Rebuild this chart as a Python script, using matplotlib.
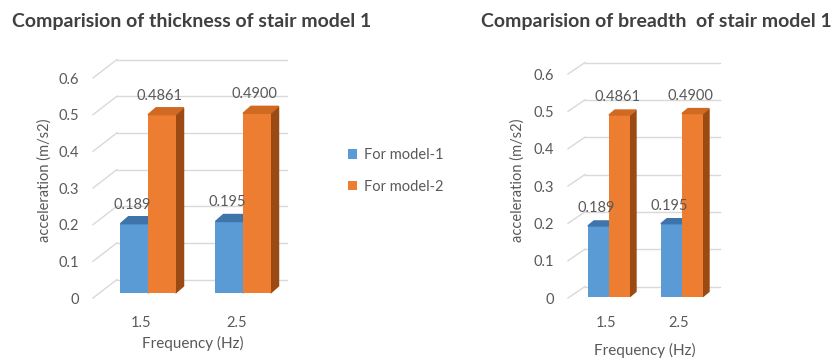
import matplotlib.pyplot as plt
from matplotlib.patches import Polygon

# ── Data ──────────────────────────────────────────────────────────────────────
CATEGORIES = ["1.5", "2.5"]
MODEL_1 = [0.189, 0.195]
MODEL_2 = [0.4861, 0.4900]
LABELS_1 = ["0.189", "0.195"]
LABELS_2 = ["0.4861", "0.4900"]
SERIES = ["For model-1", "For model-2"]
Y_TICKS = [0, 0.1, 0.2, 0.3, 0.4, 0.5, 0.6]
Y_TICK_LABELS = ["0", "0.1", "0.2", "0.3", "0.4", "0.5", "0.6"]
TITLES = ["Comparision of thickness of stair model 1",
          "Comparision of breadth  of stair model 1"]

# ── Styling ───────────────────────────────────────────────────────────────────
W, H = 832, 361
BLUE, BLUE_TOP, BLUE_SIDE = "#5B9BD5", "#3F74AB", "#3A6591"
ORANGE, ORANGE_TOP, ORANGE_SIDE = "#ED7D31", "#D06A22", "#9C4A14"
GRID = "#D9D9D9"
TXT = "#595959"
FS = 10.5
plt.rcParams["font.family"] = ["Lato", "DejaVu Sans"]

fig = plt.figure(figsize=(W / 100, H / 100), dpi=100)
fig.patch.set_facecolor("white")


def px_axes(x0, x1, ytop, ybot):
    return fig.add_axes([x0 / W, 1 - ybot / H, (x1 - x0) / W, (ybot - ytop) / H])


def panel(geom, xlim, bar_w, floor, shift, depth, ylab_xy, xlab_xy, label_off):
    x0, x1, ytop, ybot = geom
    ax = px_axes(x0, x1, ytop, ybot)
    ax.set_xlim(*xlim)
    ax.set_ylim(0, 0.6)
    ux = (xlim[1] - xlim[0]) / (x1 - x0)
    uy = 0.6 / (ybot - ytop)
    for s in ax.spines.values():
        s.set_visible(False)

    # back wall / floor gridlines
    fdx, fdy = floor[0] * ux, floor[1] * uy
    for t in Y_TICKS:
        ax.plot([xlim[0], xlim[0] + fdx], [t, t + fdy], color=GRID, lw=1.0,
                clip_on=False, zorder=1)
        ax.plot([xlim[0] + fdx, xlim[1] + fdx], [t + fdy, t + fdy], color=GRID,
                lw=1.0, clip_on=False, zorder=1)

    xs = list(range(len(CATEGORIES)))
    sx, sy = shift[0] * ux, shift[1] * uy
    ddx, ddy = depth[0] * ux, depth[1] * uy
    b1 = ax.bar([x + sx - bar_w / 2 for x in xs], MODEL_1, width=bar_w,
                bottom=sy, color=BLUE, zorder=3, clip_on=False)
    b2 = ax.bar([x + sx + bar_w / 2 for x in xs], MODEL_2, width=bar_w,
                bottom=sy, color=ORANGE, zorder=5, clip_on=False)

    for bars, top_c, side_c, z in [(b1, BLUE_TOP, BLUE_SIDE, 3),
                                   (b2, ORANGE_TOP, ORANGE_SIDE, 5)]:
        for r in bars:
            bx, by, bw, bh = r.get_x(), r.get_y(), r.get_width(), r.get_height()
            top = [(bx, by + bh), (bx + bw, by + bh),
                   (bx + bw + ddx, by + bh + ddy), (bx + ddx, by + bh + ddy)]
            side = [(bx + bw, by), (bx + bw + ddx, by + ddy),
                    (bx + bw + ddx, by + bh + ddy), (bx + bw, by + bh)]
            ax.add_patch(Polygon(top, closed=True, color=top_c, zorder=z,
                                 clip_on=False))
            ax.add_patch(Polygon(side, closed=True, color=side_c, zorder=z - 0.5,
                                 clip_on=False))

    # data labels
    for bars, labs in [(b1, LABELS_1), (b2, LABELS_2)]:
        for r, lab in zip(bars, labs):
            ax.annotate(lab, (r.get_x() + r.get_width() / 2 - 2 * ux,
                              r.get_y() + r.get_height()),
                        xytext=(0, label_off), textcoords="offset pixels",
                        ha="center", va="center", fontsize=FS, color=TXT,
                        zorder=6)

    ax.set_yticks(Y_TICKS, Y_TICK_LABELS)
    ax.set_xticks(xs, CATEGORIES)
    ax.tick_params(axis="y", length=0, pad=10, labelsize=FS, labelcolor=TXT)
    ax.tick_params(axis="x", length=0, pad=13, labelsize=FS, labelcolor=TXT)

    ax.set_ylabel("acceleration (m/s2)", fontsize=FS, color=TXT)
    ax.yaxis.set_label_coords((ylab_xy[0] - x0) / (x1 - x0),
                              (ybot - ylab_xy[1]) / (ybot - ytop))
    ax.yaxis.label.set_va("center")
    ax.set_xlabel("Frequency (Hz)", fontsize=11, color=TXT)
    ax.xaxis.set_label_coords((xlab_xy[0] - x0) / (x1 - x0),
                              (ybot - xlab_xy[1]) / (ybot - ytop))
    ax.xaxis.label.set_va("center")
    ax.set_facecolor("none")
    return ax, b1, b2


# left panel
axL, hb1, hb2 = panel(geom=(93, 263, 78, 298), xlim=(-0.5105, 1.279), bar_w=0.29,
                      floor=(24, 18.5), shift=(6.5, 5), depth=(8, 7),
                      ylab_xy=(45, 180), xlab_xy=(193, 343), label_off=19)
# right panel
axR, _, _ = panel(geom=(568, 703, 74, 298), xlim=(-0.52, 1.329), bar_w=0.288,
                  floor=(17, 11.5), shift=(3, 1.5), depth=(6, 5),
                  ylab_xy=(518, 180), xlab_xy=(645, 350), label_off=18)

fig.text(12 / W, 1 - 22 / H, TITLES[0], ha="left", va="center", fontsize=14,
         fontweight="bold", color="#404040")
fig.text(481 / W, 1 - 22 / H, TITLES[1], ha="left", va="center", fontsize=14,
         fontweight="bold", color="#404040")

fig.legend([hb1, hb2], SERIES, loc="center left",
           bbox_to_anchor=(335 / W, 1 - 171 / H), frameon=False,
           handlelength=0.6, handleheight=0.6, handletextpad=0.5,
           labelspacing=1.2, fontsize=FS, labelcolor=TXT)

plt.savefig("out.png", dpi=100, facecolor="white")
